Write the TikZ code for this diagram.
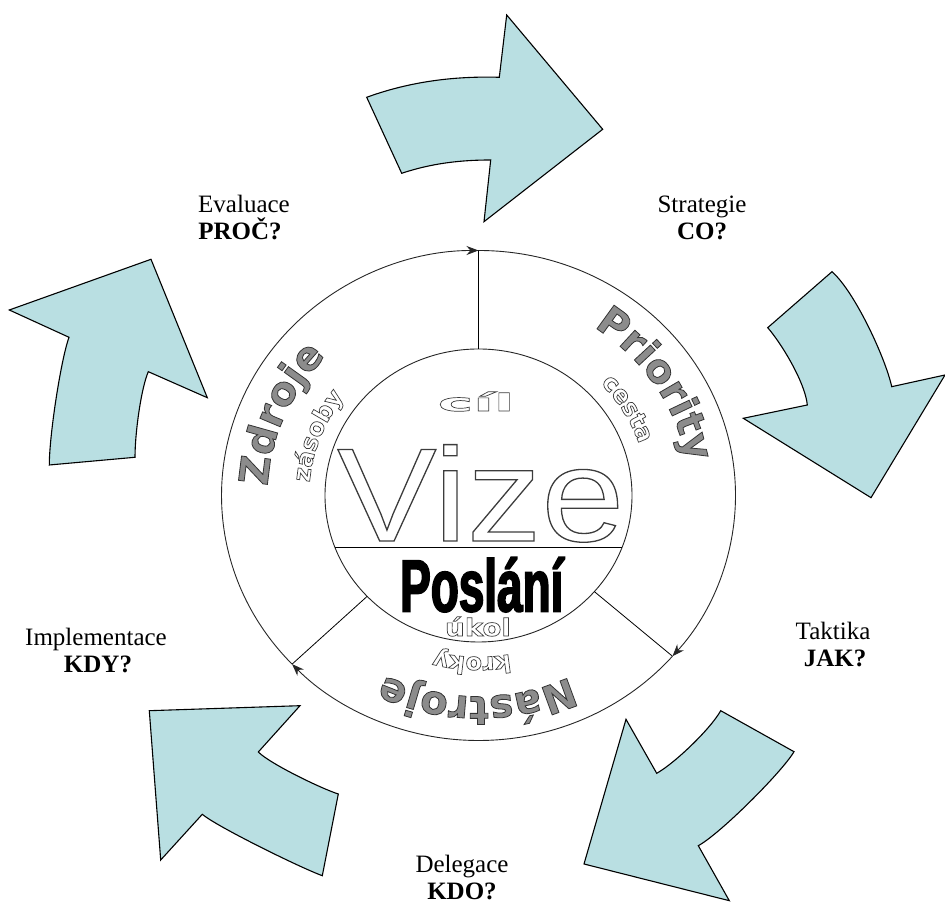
\documentclass[tikz,border=0pt]{standalone}
\usepackage{fontspec}
\setmainfont{Liberation Serif}
\newfontfamily\labelfont{Liberation Serif}
\newfontfamily\arcfont{DejaVu Sans}
\newfontfamily\vizefont[FakeStretch=1.12]{Liberation Sans}
\newfontfamily\poslfont[FakeStretch=0.62]{Liberation Sans}
\newfontfamily\cilfont[FakeStretch=2.5]{DejaVu Sans}
\newfontfamily\ukolfont[FakeStretch=1.15]{DejaVu Sans}
\usetikzlibrary{decorations.text,arrows.meta}
\definecolor{cyanfill}{RGB}{185,223,226}
\definecolor{textgray}{RGB}{140,140,140}
\definecolor{outl}{RGB}{60,60,60}
\newcommand\trstroke[1]{\special{pdf:literal direct 1 Tr #1 w}}
\newcommand\trfillstroke[1]{\special{pdf:literal direct 0.2 0.2 0.2 RG 2 Tr #1 w}}
\newcommand\bigarcfmt{\arcfont\bfseries\fontsize{40}{40}\selectfont\color{textgray}\trfillstroke{0.8}}
\newcommand\smallarcfmt{\arcfont\bfseries\fontsize{24}{24}\selectfont\color{outl}\trstroke{0.7}}
\begin{document}
\begin{tikzpicture}[x=1pt,y=1pt,
  blockarrow/.style={fill=cyanfill,draw=black,line width=1.1pt,line join=miter},
  ring/.style={draw=black!85,line width=0.9pt},
  spoke/.style={draw=black,line width=0.8pt},
  ringarrow/.style={ring,-{Stealth[length=12pt,width=9pt]}},
  lbl/.style={font=\labelfont\fontsize{25}{27}\selectfont,anchor=base,inner sep=0pt},
  lblq/.style={lbl,font=\labelfont\bfseries\fontsize{25}{27}\selectfont},
  arctext/.style={decorate,decoration={text along path,text align=center,text={#1}}}
]
\useasboundingbox (0,0) rectangle (945,909);

% labels
\node[lbl] (strat) at (702,909-212.7) {Strategie};
\node[lblq] (co) at (702,909-240) {CO?};
\node[lbl] (eval) at (244,909-213) {Evaluace};
\node[lblq] (proc) at (240,909-240) {PROČ?};
\node[lbl] (takt) at (833,909-640) {Taktika};
\node[lblq] (jak) at (835,909-667) {JAK?};
\node[lbl] (impl) at (96,909-646) {Implementace};
\node[lblq] (kdy) at (98,909-673) {KDY?};
\node[lbl] (deleg) at (462,909-873) {Delegace};
\node[lblq] (kdo) at (462,909-900) {KDO?};

% cyan block arrows
\draw[blockarrow] (366.7,909-97.3) .. controls (410.7,909-81.3) and (455.3,909-76) .. (499.3,909-77.3)
  -- (506.7,909-15) -- (602.7,909-129.3) -- (484,909-221.7) -- (490.7,909-160)
  .. controls (460.7,909-160) and (431.7,909-163.3) .. (401.7,909-173.3) -- cycle;
\draw[blockarrow] (832,909-271.7) .. controls (855,909-292) and (885.7,909-358.7) .. (891.7,909-386.7)
  -- (945,909-375) -- (871,909-497.7) -- (743.3,909-418.3) -- (807.3,909-405)
  .. controls (805.3,909-383) and (781.7,909-343.7) .. (767.7,909-327.7) -- cycle;
\draw[blockarrow] (794,909-751.7) .. controls (782,909-772) and (720.3,909-833.7) .. (698.3,909-845.7)
  -- (729.3,909-900.7) -- (584,909-864) -- (626,909-719.3) -- (656.7,909-773.3)
  .. controls (674.7,909-763.3) and (710.7,909-728.7) .. (720.7,909-710.7) -- cycle;
\draw[blockarrow] (322.3,909-875.7) .. controls (300.3,909-867.7) and (216.3,909-826.3) .. (202.3,909-814.3)
  -- (160.7,909-860) -- (149.3,909-710.7) -- (300,909-705.7) -- (258.3,909-752)
  .. controls (270.3,909-764) and (322.3,909-789) .. (338.3,909-794) -- cycle;
\draw[blockarrow] (49.3,909-465) .. controls (49.3,909-435) and (61,909-359.3) .. (69,909-337.3)
  -- (9.3,909-310) -- (151,909-259.3) -- (207.3,909-397.7) -- (148.3,909-371.7)
  .. controls (141.3,909-387.7) and (135,909-432.3) .. (135,909-457.3) -- cycle;

% ring geometry
\coordinate (C) at (478.5,413.5);
\path (C) ++(90:257 and 245) coordinate (oT);
\path (C) ++(-41:257 and 245) coordinate (oR);
\path (C) ++(223.5:257 and 245) coordinate (oL);
\path (C) ++(90:153.5 and 146.5) coordinate (iT);
\path (C) ++(-41:153.5 and 146.5) coordinate (iR);
\path (C) ++(223.5:153.5 and 146.5) coordinate (iL);
\path (C) ++(-20.6:153.5 and 146.5) coordinate (hR);
\path (C) ++(200.6:153.5 and 146.5) coordinate (hL);

\draw[ring] (C) ellipse[x radius=153.5, y radius=146.5];
\draw[spoke] (hL) -- (hR);
\draw[spoke] (iT) -- (oT);
\draw[spoke] (iR) -- (oR);
\draw[spoke] (iL) -- (oL);
\draw[ringarrow] (oL) arc[start angle=223.5, end angle=90, x radius=257, y radius=245];
\draw[ringarrow] (oT) arc[start angle=90, end angle=-41, x radius=257, y radius=245];
\draw[ringarrow] (oR) arc[start angle=-41, end angle=-136.5, x radius=257, y radius=245];

% curved texts
\path[arctext={|\bigarcfmt|Priority}] (C) ++(68:211 and 201) arc[start angle=68, end angle=-2, x radius=211, y radius=201];
\path[arctext={|\bigarcfmt|Zdroje}] (C) ++(192:211 and 201) arc[start angle=192, end angle=122, x radius=211, y radius=201];
\path[arctext={|\bigarcfmt|Nástroje}] (C) ++(-55.4:211 and 201) arc[start angle=-55.4, end angle=-125.4, x radius=211, y radius=201];
\path[arctext={|\smallarcfmt|cesta}] (C) ++(61:169.4 and 161.5) arc[start angle=61, end angle=1, x radius=169.4, y radius=161.5];
\path[arctext={|\smallarcfmt|zásoby}] (C) ++(189:169.4 and 161.5) arc[start angle=189, end angle=129, x radius=169.4, y radius=161.5];
\path[arctext={|\smallarcfmt|kroky}] (C) ++(-62.2:169.4 and 161.5) arc[start angle=-62.2, end angle=-122.2, x radius=169.4, y radius=161.5];

% centre texts
\node[inner sep=0pt,anchor=base] (cil) at (476,909-411) {\cilfont\bfseries\fontsize{24}{24}\selectfont\color{outl}\trstroke{0.7}cíl};
\node[inner sep=0pt,anchor=base west] (vize) at (337,909-541) {\vizefont\fontsize{133}{133}\selectfont\color{outl}\trstroke{1.3}Vize};
\node[inner sep=0pt,anchor=base] (ukol) at (478,909-636) {\ukolfont\bfseries\fontsize{24}{24}\selectfont\color{outl}\trstroke{0.7}úkol};
\node[inner sep=0pt,anchor=base west] (posl) at (400,909-611.5) {\poslfont\bfseries\fontsize{74}{74}\selectfont\color{black}\special{pdf:literal direct 0 0 0 RG 2 Tr 1.6 w}Poslání};
\end{tikzpicture}
\end{document}
